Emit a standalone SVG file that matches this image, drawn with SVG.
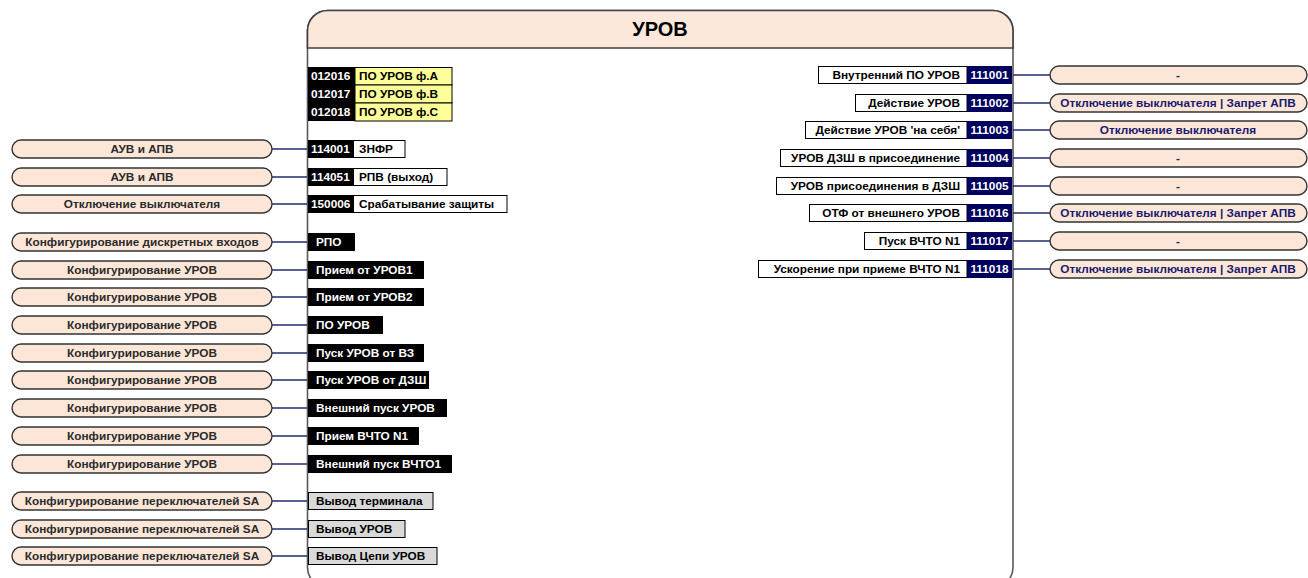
<svg xmlns="http://www.w3.org/2000/svg" width="1308" height="578" viewBox="0 0 1308 578">
<style>
text{font-family:"Liberation Sans",Arial,sans-serif;font-weight:bold;font-size:11.8px}
.pill{fill:#FCE6D8;stroke:#333;stroke-width:1.4}
.pt{fill:#2b2b2b;text-anchor:middle}
.pr{fill:#1a1a6e;text-anchor:middle}
.blk{fill:#000}
.nav{fill:#00005E}
.wb{fill:#fff;stroke:#000;stroke-width:1}
.yb{fill:#FFFF99;stroke:#000;stroke-width:1}
.gb{fill:#D9D9D9;stroke:#000;stroke-width:1}
.wt{fill:#fff}
.kt{fill:#000}
.ct{fill:#fff;text-anchor:middle}
.rt{fill:#000;text-anchor:end}
.con line{stroke:#1F2A70;stroke-width:1.5}
</style>
<g id="block">
<rect x="307.5" y="10.5" width="705.5" height="577" rx="20" ry="20" fill="#fff" stroke="#595959" stroke-width="1.6"/>
<path d="M307.5,48 V30.5 A20,20 0 0 1 327.5,10.5 H993 A20,20 0 0 1 1013,30.5 V48 Z" fill="#FCE8DA" stroke="#404040" stroke-width="1.6"/>
<text x="660" y="36" text-anchor="middle" style="font-size:20px" fill="#000">УРОВ</text>
</g>
<g class="con">
<line x1="272" y1="149" x2="307" y2="149"/>
<line x1="272" y1="177" x2="307" y2="177"/>
<line x1="272" y1="204" x2="307" y2="204"/>
<line x1="272" y1="242" x2="307" y2="242"/>
<line x1="272" y1="270" x2="307" y2="270"/>
<line x1="272" y1="297" x2="307" y2="297"/>
<line x1="272" y1="325" x2="307" y2="325"/>
<line x1="272" y1="353" x2="307" y2="353"/>
<line x1="272" y1="380" x2="307" y2="380"/>
<line x1="272" y1="408" x2="307" y2="408"/>
<line x1="272" y1="436" x2="307" y2="436"/>
<line x1="272" y1="464" x2="307" y2="464"/>
<line x1="272" y1="501" x2="307" y2="501"/>
<line x1="272" y1="529" x2="307" y2="529"/>
<line x1="272" y1="556" x2="307" y2="556"/>
<line x1="1013" y1="75" x2="1050" y2="75"/>
<line x1="1013" y1="103" x2="1050" y2="103"/>
<line x1="1013" y1="130" x2="1050" y2="130"/>
<line x1="1013" y1="158" x2="1050" y2="158"/>
<line x1="1013" y1="186" x2="1050" y2="186"/>
<line x1="1013" y1="213" x2="1050" y2="213"/>
<line x1="1013" y1="241" x2="1050" y2="241"/>
<line x1="1013" y1="269" x2="1050" y2="269"/>
</g>
<g id="yellow">
<rect class="blk" x="308" y="67" width="47" height="18"/><rect class="yb" x="355" y="67.5" width="97" height="17.5"/>
<text class="wt" x="311" y="80">012016</text><text class="kt" x="359" y="80">ПО УРОВ ф.А</text>
<rect class="blk" x="308" y="85" width="47" height="18"/><rect class="yb" x="355" y="85" width="97" height="18"/>
<text class="wt" x="311" y="98">012017</text><text class="kt" x="359" y="98">ПО УРОВ ф.В</text>
<rect class="blk" x="308" y="103" width="47" height="18"/><rect class="yb" x="355" y="103" width="97" height="18"/>
<text class="wt" x="311" y="116">012018</text><text class="kt" x="359" y="116">ПО УРОВ ф.С</text>
</g>
<g id="in1"><rect class="pill" x="12" y="140" width="260" height="18" rx="9"/><text class="pt" x="142" y="153">АУВ и АПВ</text>
<rect class="blk" x="308" y="140" width="46" height="18"/><rect class="wb" x="353.5" y="140.5" width="51.5" height="17"/><text class="wt" x="311" y="153">114001</text><text class="kt" x="359" y="153">ЗНФР</text></g>
<g id="in2"><rect class="pill" x="12" y="168" width="260" height="18" rx="9"/><text class="pt" x="142" y="181">АУВ и АПВ</text>
<rect class="blk" x="308" y="168" width="46" height="18"/><rect class="wb" x="353.5" y="168.5" width="93.5" height="17"/><text class="wt" x="311" y="181">114051</text><text class="kt" x="359" y="181">РПВ (выход)</text></g>
<g id="in3"><rect class="pill" x="12" y="195" width="260" height="18" rx="9"/><text class="pt" x="142" y="208">Отключение выключателя</text>
<rect class="blk" x="308" y="195" width="46" height="18"/><rect class="wb" x="353.5" y="195.5" width="153.5" height="17"/><text class="wt" x="311" y="208">150006</text><text class="kt" x="359" y="208">Срабатывание защиты</text></g>
<g id="in4"><rect class="pill" x="12" y="233" width="260" height="18" rx="9"/><text class="pt" x="142" y="246">Конфигурирование дискретных входов</text>
<rect class="blk" x="308" y="233" width="47" height="18"/><text class="wt" x="316" y="246">РПО</text></g>
<g id="in5"><rect class="pill" x="12" y="261" width="260" height="18" rx="9"/><text class="pt" x="142" y="274">Конфигурирование УРОВ</text>
<rect class="blk" x="308" y="261" width="116" height="18"/><text class="wt" x="316" y="274">Прием от УРОВ1</text></g>
<g id="in6"><rect class="pill" x="12" y="288" width="260" height="18" rx="9"/><text class="pt" x="142" y="301">Конфигурирование УРОВ</text>
<rect class="blk" x="308" y="288" width="116" height="18"/><text class="wt" x="316" y="301">Прием от УРОВ2</text></g>
<g id="in7"><rect class="pill" x="12" y="316" width="260" height="18" rx="9"/><text class="pt" x="142" y="329">Конфигурирование УРОВ</text>
<rect class="blk" x="308" y="316" width="75" height="18"/><text class="wt" x="316" y="329">ПО УРОВ</text></g>
<g id="in8"><rect class="pill" x="12" y="344" width="260" height="18" rx="9"/><text class="pt" x="142" y="357">Конфигурирование УРОВ</text>
<rect class="blk" x="308" y="344" width="116" height="18"/><text class="wt" x="316" y="357">Пуск УРОВ от ВЗ</text></g>
<g id="in9"><rect class="pill" x="12" y="371" width="260" height="18" rx="9"/><text class="pt" x="142" y="384">Конфигурирование УРОВ</text>
<rect class="blk" x="308" y="371" width="121" height="18"/><text class="wt" x="316" y="384">Пуск УРОВ от ДЗШ</text></g>
<g id="in10"><rect class="pill" x="12" y="399" width="260" height="18" rx="9"/><text class="pt" x="142" y="412">Конфигурирование УРОВ</text>
<rect class="blk" x="308" y="399" width="139" height="18"/><text class="wt" x="316" y="412">Внешний пуск УРОВ</text></g>
<g id="in11"><rect class="pill" x="12" y="427" width="260" height="18" rx="9"/><text class="pt" x="142" y="440">Конфигурирование УРОВ</text>
<rect class="blk" x="308" y="427" width="111" height="18"/><text class="wt" x="316" y="440">Прием ВЧТО N1</text></g>
<g id="in12"><rect class="pill" x="12" y="455" width="260" height="18" rx="9"/><text class="pt" x="142" y="468">Конфигурирование УРОВ</text>
<rect class="blk" x="308" y="455" width="144" height="18"/><text class="wt" x="316" y="468">Внешний пуск ВЧТО1</text></g>
<g id="in13"><rect class="pill" x="12" y="492" width="260" height="18" rx="9"/><text class="pt" x="142" y="505">Конфигурирование переключателей SA</text>
<rect class="gb" x="308.5" y="492.5" width="124.5" height="17"/><text class="kt" x="316" y="505">Вывод терминала</text></g>
<g id="in14"><rect class="pill" x="12" y="520" width="260" height="18" rx="9"/><text class="pt" x="142" y="533">Конфигурирование переключателей SA</text>
<rect class="gb" x="308.5" y="520.5" width="96.5" height="17"/><text class="kt" x="316" y="533">Вывод УРОВ</text></g>
<g id="in15"><rect class="pill" x="12" y="547" width="260" height="18" rx="9"/><text class="pt" x="142" y="560">Конфигурирование переключателей SA</text>
<rect class="gb" x="308.5" y="547.5" width="128.5" height="17"/><text class="kt" x="316" y="560">Вывод Цепи УРОВ</text></g>
<g id="out1"><rect class="wb" x="818.5" y="66.5" width="148.5" height="17"/><rect class="nav" x="967" y="66" width="45" height="18"/><text class="rt" x="960" y="79">Внутренний ПО УРОВ</text><text class="ct" x="989.5" y="79">111001</text>
<rect class="pill" x="1050" y="66" width="257" height="18" rx="9"/><text class="pr" x="1178" y="79">-</text></g>
<g id="out2"><rect class="wb" x="855.5" y="94.5" width="111.5" height="17"/><rect class="nav" x="967" y="94" width="45" height="18"/><text class="rt" x="960" y="107">Действие УРОВ</text><text class="ct" x="989.5" y="107">111002</text>
<rect class="pill" x="1050" y="94" width="257" height="18" rx="9"/><text class="pr" x="1178" y="107">Отключение выключателя | Запрет АПВ</text></g>
<g id="out3"><rect class="wb" x="805.5" y="121.5" width="161.5" height="17"/><rect class="nav" x="967" y="121" width="45" height="18"/><text class="rt" x="960" y="134">Действие УРОВ 'на себя'</text><text class="ct" x="989.5" y="134">111003</text>
<rect class="pill" x="1050" y="121" width="257" height="18" rx="9"/><text class="pr" x="1178" y="134">Отключение выключателя</text></g>
<g id="out4"><rect class="wb" x="780.5" y="149.5" width="186.5" height="17"/><rect class="nav" x="967" y="149" width="45" height="18"/><text class="rt" x="960" y="162">УРОВ ДЗШ в присоединение</text><text class="ct" x="989.5" y="162">111004</text>
<rect class="pill" x="1050" y="149" width="257" height="18" rx="9"/><text class="pr" x="1178" y="162">-</text></g>
<g id="out5"><rect class="wb" x="776.5" y="177.5" width="190.5" height="17"/><rect class="nav" x="967" y="177" width="45" height="18"/><text class="rt" x="960" y="190">УРОВ присоединения в ДЗШ</text><text class="ct" x="989.5" y="190">111005</text>
<rect class="pill" x="1050" y="177" width="257" height="18" rx="9"/><text class="pr" x="1178" y="190">-</text></g>
<g id="out6"><rect class="wb" x="809.5" y="204.5" width="157.5" height="17"/><rect class="nav" x="967" y="204" width="45" height="18"/><text class="rt" x="960" y="217">ОТФ от внешнего УРОВ</text><text class="ct" x="989.5" y="217">111016</text>
<rect class="pill" x="1050" y="204" width="257" height="18" rx="9"/><text class="pr" x="1178" y="217">Отключение выключателя | Запрет АПВ</text></g>
<g id="out7"><rect class="wb" x="864.5" y="232.5" width="102.5" height="17"/><rect class="nav" x="967" y="232" width="45" height="18"/><text class="rt" x="960" y="245">Пуск ВЧТО N1</text><text class="ct" x="989.5" y="245">111017</text>
<rect class="pill" x="1050" y="232" width="257" height="18" rx="9"/><text class="pr" x="1178" y="245">-</text></g>
<g id="out8"><rect class="wb" x="758.5" y="260.5" width="208.5" height="17"/><rect class="nav" x="967" y="260" width="45" height="18"/><text class="rt" x="960" y="273">Ускорение при приеме ВЧТО N1</text><text class="ct" x="989.5" y="273">111018</text>
<rect class="pill" x="1050" y="260" width="257" height="18" rx="9"/><text class="pr" x="1178" y="273">Отключение выключателя | Запрет АПВ</text></g>
</svg>
